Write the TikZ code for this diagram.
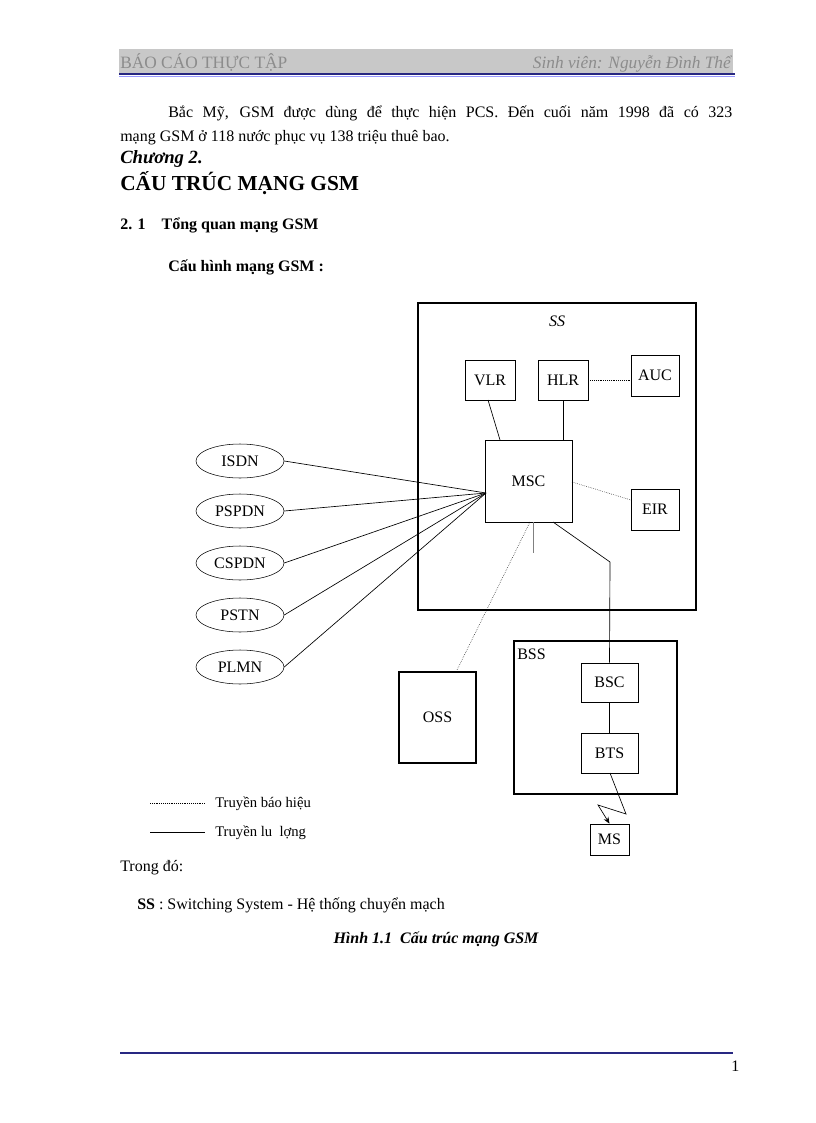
\documentclass[tikz,border=0pt]{standalone}
\usepackage{fontspec}
\setmainfont{Liberation Serif}
\usetikzlibrary{shapes.geometric,arrows.meta}
\definecolor{hdrbg}{RGB}{200,200,200}
\definecolor{hdrtx}{RGB}{140,140,140}
\definecolor{navy}{RGB}{40,40,130}
\newdimen\pxu \pxu=0.75pt
\begin{document}
\begin{tikzpicture}[x=0.75pt,y=-0.75pt,
  box/.style={draw,line width=0.5pt,minimum width=#1\pxu,inner sep=0pt,font=\fontsize{12}{13}\selectfont},
  big/.style={draw,line width=1.5pt},
  ell/.style={draw,ellipse,minimum width=88\pxu,minimum height=34\pxu,inner sep=0pt,font=\fontsize{12}{13}\selectfont},
  sig/.style={densely dotted,line width=0.4pt},
  tra/.style={line width=0.5pt},
  txt/.style={anchor=base west,inner sep=0pt,font=\fontsize{12}{14}\selectfont}]
\useasboundingbox (0,0) rectangle (816,1123);
\fill[white] (0,0) rectangle (816,1123);
% header
\fill[hdrbg] (119,49) rectangle (733,73);
\fill[navy] (119,73.5) rectangle (735,75.5);
\fill[blue!40] (119,76) rectangle (735,77);
\node[txt,text=hdrtx,font=\fontsize{13}{14}\selectfont] (h1) at (120,69) {BÁO CÁO THỰC TẬP};
\node[txt,anchor=base east,text=hdrtx,font=\fontsize{13}{14}\itshape] (h2) at (731,69) {Sinh viên: Nguyễn Đình Thể};
% text
\node[txt,text width=564\pxu,align=justify] (p1) at (168,118) {\parfillskip=0pt Bắc Mỹ, GSM được dùng để thực hiện PCS. Đến cuối năm 1998 đã có 323\par};
\node[txt] (p2) at (120,142) {mạng GSM ở 118 nước phục vụ 138 triệu thuê bao.};
\node[txt,font=\fontsize{14}{16}\bfseries\itshape] (c1) at (120,164) {Chương 2.};
\node[txt,font=\fontsize{16}{18}\bfseries] (c2) at (120,191) {CẤU TRÚC MẠNG GSM};
\node[txt,font=\fontsize{12}{14}\bfseries] (s1) at (120,229) {2. 1\quad Tổng quan mạng GSM};
\node[txt,font=\fontsize{12}{14}\bfseries] (s2) at (168,271) {Cấu hình mạng GSM :};
% SS
\draw[big] (418,303) rectangle (696,610);
\node[font=\fontsize{12}{13}\itshape] (ss) at (557,321) {SS};
\node[box=50,minimum height=40\pxu] (vlr) at (490,380) {VLR};
\node[box=50,minimum height=40\pxu] (hlr) at (563,380) {HLR};
\node[box=48,minimum height=41\pxu] (auc) at (655,375.5) {AUC};
\node[box=87,minimum height=82\pxu] (msc) at (528.5,481) {MSC};
\node[box=48,minimum height=41\pxu] (eir) at (655,509.5) {EIR};
\coordinate (mw) at (486,493);
\foreach \n/\t/\y in {isdn/ISDN/461,pspdn/PSPDN/511,cspdn/CSPDN/563,pstn/PSTN/615,plmn/PLMN/667}{
  \node[ell] (\n) at (240,\y) {\t};
  \draw[tra] (\n.east) -- (mw);
}
\draw[tra] (488,400) -- (500,440);
\draw[tra] (hlr.south) -- (hlr.south |- msc.north);
\draw[sig] (hlr.east) -- (auc.west |- hlr.east);
\draw[sig] (572,482) -- (631,500);
\coordinate (mb) at (533,553);
\draw[tra,gray] (533,522) -- (mb);
% OSS
\node[big,minimum width=77\pxu,minimum height=91\pxu,inner sep=0pt,font=\fontsize{12}{14}\selectfont] (oss) at (437.5,717.5) {OSS};
\draw[sig] (530,522) -- (457,670);
% BSS
\draw[big] (514,641) rectangle (677,794);
\node[txt,font=\fontsize{12}{13}\selectfont] (bss) at (517,659) {BSS};
\node[box=57,minimum height=39\pxu] (bsc) at (609.5,682.5) {BSC};
\node[box=57,minimum height=40\pxu] (bts) at (609.5,753) {BTS};
\node[box=39,minimum height=31\pxu] (ms) at (609.5,839.5) {MS};
\coordinate (k1) at (610,562);
\draw[tra] (553,522) -- (k1) -- (bsc.north);
\draw[tra] (bsc) -- (bts);
\coordinate (z1) at (626,814);
\coordinate (z2) at (598,805);
\draw[tra,-{Stealth[length=5pt,width=4pt]}] (610,773) -- (z1) -- (z2) -- (ms.north);
% legend
\coordinate (l1) at (150,803); \coordinate (l2) at (205,803);
\draw[sig] (l1) -- (l2);
\node[txt,font=\fontsize{11}{12}\selectfont] (lg1) at (215,807) {Truyền báo hiệu};
\coordinate (l3) at (150,832); \coordinate (l4) at (205,832);
\draw[tra] (l3) -- (l4);
\node[txt,font=\fontsize{11}{12}\selectfont] (lg2) at (215,836) {Truyền lu\ \ lợng};
\node[txt] (t1) at (120,871) {Trong đó:};
\node[txt] (t2) at (137,909) {\textbf{SS} : Switching System - Hệ thống chuyển mạch};
\node[txt,anchor=base,font=\fontsize{12}{14}\bfseries\itshape] (cap) at (436,943) {Hình 1.1\ \ Cấu trúc mạng GSM};
% footer
\draw[navy,line width=0.8pt] (120,1053) -- (733,1053);
\node[txt,font=\fontsize{12}{14}\selectfont] (pg) at (731,1071) {1};
\end{tikzpicture}
\end{document}
